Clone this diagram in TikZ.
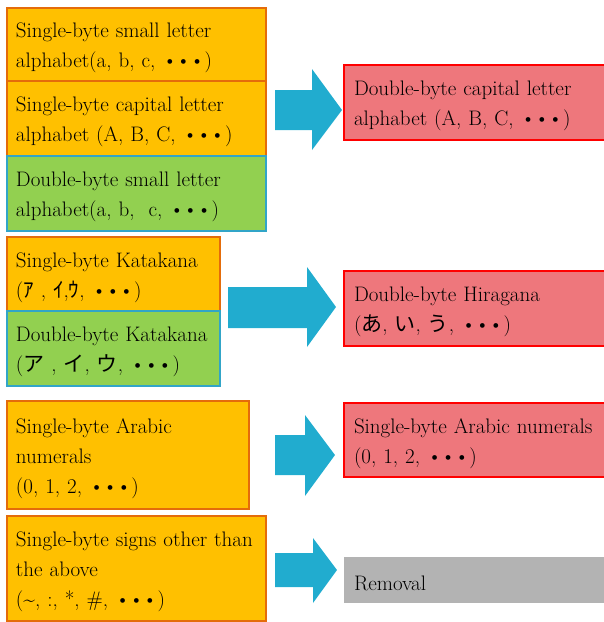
\documentclass[tikz,border=0pt]{standalone}
\usepackage{fontspec}
\newfontfamily\cjk{Noto Sans CJK JP}
\definecolor{org}{HTML}{FFC000}
\definecolor{orgb}{HTML}{E46C0A}
\definecolor{grn}{HTML}{92D050}
\definecolor{grnb}{HTML}{31A5C8}
\definecolor{pnk}{HTML}{EE777C}
\definecolor{redb}{HTML}{FF0000}
\definecolor{arr}{HTML}{21ACCF}
\definecolor{gry}{HTML}{B3B3B3}
\newcommand{\dts}{\textbullet\kern-1.5pt\textbullet\kern-1.5pt\textbullet}
\newcommand{\tstrut}{\rule{0pt}{22pt}}
\begin{document}
\begin{tikzpicture}[x=1pt,y=-1pt,
  box/.style={anchor=north west, align=left, inner xsep=8pt, inner ysep=2pt,
    line width=2pt, font=\fontsize{21}{30}\selectfont},
  obox/.style={box, fill=org, draw=orgb},
  gbox/.style={box, fill=grn, draw=grnb},
  rbox/.style={box, fill=pnk, draw=redb, inner xsep=9pt},
  xbox/.style={box, fill=gry, inner xsep=9pt},
  arrowfill/.style={fill=arr}]
\useasboundingbox (0,0) rectangle (604,622);
\begin{scope}
\clip (0,0) rectangle (604,622);
\node[obox, minimum width=259pt, minimum height=73pt, text width=241pt] (b1) at (6,7) {\tstrut Single-byte small letter\\alphabet(a, b, c, \dts)};
\node[obox, minimum width=259pt, minimum height=75pt, text width=241pt] (b2) at (6,80) {\tstrut Single-byte capital letter\\alphabet (A, B, C, \dts)};
\node[gbox, minimum width=259pt, minimum height=75pt, text width=241pt] (b3) at (6,155) {\tstrut Double-byte small letter\\alphabet(a, b,\ \ c, \dts)};
\node[obox, minimum width=213pt, minimum height=74pt, text width=195pt] (b4) at (6,236) {\tstrut Single-byte Katakana\\({\cjk ｱ} , {\cjk ｲ},{\cjk ｳ}, \dts)};
\node[gbox, minimum width=213pt, minimum height=75pt, text width=195pt] (b5) at (6,310) {\tstrut Double-byte Katakana\\({\cjk ア} , {\cjk イ}, {\cjk ウ}, \dts)};
\node[obox, minimum width=242pt, minimum height=108pt, text width=224pt] (b6) at (6,400) {\tstrut Single-byte Arabic\\numerals\\(0, 1, 2, \dts)};
\node[obox, minimum width=259pt, minimum height=105pt, text width=241pt] (b7) at (6,515) {\tstrut Single-byte signs other than\\the above\\(\textasciitilde, :, *, \#, \dts)};
\node[rbox, minimum width=263pt, minimum height=75pt, text width=243pt] (r1) at (343,64) {\tstrut Double-byte capital letter\\alphabet (A, B, C, \dts)};
\node[rbox, minimum width=263pt, minimum height=75pt, text width=243pt] (r2) at (343,270) {\tstrut Double-byte Hiragana\\({\cjk あ}, {\cjk い}, {\cjk う}, \dts)};
\node[rbox, minimum width=263pt, minimum height=74pt, text width=243pt] (r3) at (343,402) {\tstrut Single-byte Arabic numerals\\(0, 1, 2, \dts)};
\node[xbox, minimum width=263pt, minimum height=46pt, text width=243pt] (r4) at (343,556) {\tstrut Removal};
\end{scope}
\fill[arrowfill] (275,90) -- (312,90) -- (312,69) -- (342,110) -- (312,150) -- (312,130) -- (275,130) -- cycle;
\fill[arrowfill] (228,287) -- (307,287) -- (307,267) -- (336,307) -- (307,347) -- (307,328) -- (228,328) -- cycle;
\fill[arrowfill] (275,435) -- (305,435) -- (305,415) -- (335,455) -- (305,496) -- (305,475) -- (275,475) -- cycle;
\fill[arrowfill] (275,553) -- (313,553) -- (313,538) -- (337,570) -- (313,603) -- (313,587) -- (275,587) -- cycle;
\end{tikzpicture}
\end{document}
